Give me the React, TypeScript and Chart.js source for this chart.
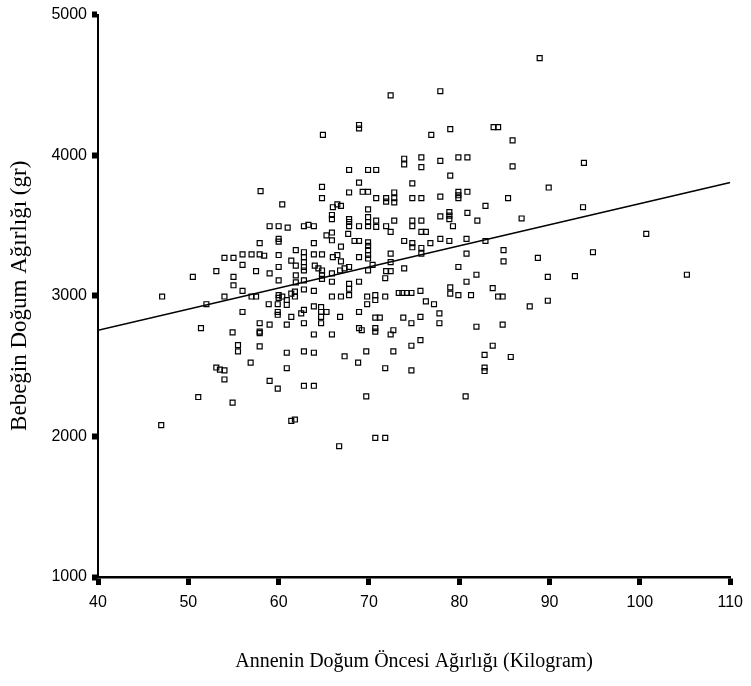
import { useEffect, useRef } from "react";
import { Chart, registerables } from "chart.js";

Chart.register(...registerables);

// Mother's pre-birth weight (kg) for each birth
const motherWeight = [
  64.9, 58.0, 64.8, 64.8, 60.4, 66.0, 66.5, 66.9, 65.9, 65.9,
  59.0, 60.0, 61.0, 62.8, 63.3, 63.9, 65.3, 65.9, 65.9, 60.0,
  60.0, 57.9, 63.9, 66.9, 54.0, 55.0, 56.0, 57.0, 57.9, 58.4,
  60.0, 61.9, 62.8, 62.8, 62.8, 63.9, 64.8, 66.0, 66.5, 66.9,
  61.4, 56.0, 57.5, 53.1, 50.5, 55.0, 55.0, 59.0, 60.0, 60.0,
  61.9, 61.9, 61.9, 62.8, 62.8, 62.8, 64.0, 64.4, 64.8, 64.8,
  64.8, 65.9, 65.9, 66.8, 67.3, 47.1, 52.0, 54.0, 56.0, 57.0,
  57.5, 58.9, 60.0, 60.0, 59.9, 60.4, 60.9, 61.4, 61.8, 61.8,
  62.8, 63.9, 65.9, 66.9, 56.0, 59.9, 59.9, 60.9, 61.4, 62.5,
  62.8, 63.9, 64.7, 64.7, 64.7, 64.7, 65.3, 66.8, 51.4, 54.9,
  57.9, 57.9, 57.9, 59.0, 60.9, 62.8, 63.9, 65.9, 67.3, 55.5,
  55.5, 57.9, 60.9, 62.8, 63.9, 56.9, 53.1, 53.5, 54.0, 54.0,
  60.9, 59.0, 59.9, 62.8, 63.9, 51.1, 54.9, 61.4, 61.8, 47.0,
  66.7, 72.4, 77.9, 68.9, 68.9, 76.9, 79.0, 83.8, 84.3, 85.9,
  89.9, 67.8, 69.9, 70.8, 73.9, 73.9, 75.8, 75.8, 77.9, 79.9,
  80.9, 85.9, 79.0, 68.9, 74.8, 67.8, 69.3, 69.9, 70.8, 71.9,
  71.9, 72.8, 72.8, 72.8, 74.8, 75.8, 77.9, 79.9, 79.9, 79.9,
  80.9, 85.4, 82.9, 69.9, 67.8, 67.8, 67.8, 68.9, 69.9, 69.9,
  69.9, 70.8, 70.8, 71.9, 72.8, 72.4, 74.8, 74.8, 75.8, 75.8,
  76.3, 77.9, 78.9, 78.9, 78.9, 79.3, 80.9, 82.0, 86.9, 67.7,
  68.4, 68.9, 69.9, 69.9, 69.9, 69.9, 69.9, 73.9, 74.8, 74.8,
  75.8, 76.8, 77.9, 78.9, 80.8, 82.9, 72.4, 75.8, 68.9, 80.8,
  84.9, 84.9, 88.7, 70.4, 72.4, 67.8, 69.9, 71.9, 72.4, 73.9,
  79.9, 81.9, 89.8, 68.9, 71.8, 80.8, 67.8, 67.8, 67.8, 69.8,
  69.8, 70.7, 70.7, 71.8, 73.3, 73.7, 74.2, 74.7, 75.7, 76.3,
  77.2, 79.0, 79.0, 79.9, 81.3, 83.7, 84.3, 84.8, 87.8, 89.8,
  68.9, 70.7, 71.2, 73.8, 74.7, 75.7, 77.8, 77.8, 68.9, 69.2,
  70.7, 70.7, 72.4, 72.7, 81.9, 84.8, 74.7, 75.7, 69.7, 72.7,
  83.7, 82.8, 85.7, 68.8, 71.8, 74.7, 82.8, 82.8, 69.7, 80.7,
  70.7, 71.8, 88.9, 93.8, 93.7, 100.7, 94.8, 92.8, 105.2,
];

// Baby's birth weight (g), same order as motherWeight
const babyWeight = [
  4145, 3745, 3775, 3695, 3650, 3630, 3650, 3640, 3575, 3545,
  3495, 3495, 3485, 3495, 3505, 3495, 3430, 3450, 3395, 3405,
  3385, 3375, 3375, 3350, 3270, 3270, 3295, 3295, 3295, 3285,
  3290, 3325, 3310, 3275, 3240, 3295, 3295, 3275, 3290, 3245,
  3250, 3220, 3175, 3175, 3135, 3135, 3075, 3160, 3205, 3110,
  3215, 3145, 3095, 3205, 3180, 3110, 3215, 3195, 3180, 3145,
  3120, 3160, 3100, 3180, 3195, 2995, 2940, 2995, 3035, 2995,
  2995, 2940, 3005, 2985, 2940, 2995, 2970, 3015, 3030, 2995,
  3045, 3035, 2995, 2995, 2885, 2885, 2865, 2935, 2850, 2875,
  2900, 2925, 2920, 2885, 2850, 2805, 2885, 2850, 2770, 2740,
  2805, 2745, 2735, 2795, 2795, 2805, 2725, 2725, 2570, 2650,
  2605, 2640, 2595, 2605, 2595, 2525, 2490, 2475, 2470, 2405,
  2485, 2395, 2340, 2360, 2360, 2280, 2240, 2110, 2120, 2080,
  1930, 4425, 4455, 4215, 4190, 4145, 4185, 4200, 4200, 4105,
  3770, 3895, 3895, 3895, 3975, 3935, 3985, 3915, 3960, 3985,
  3985, 3920, 3855, 3805, 3800, 3735, 3740, 3740, 3695, 3695,
  3670, 3735, 3695, 3665, 3695, 3695, 3705, 3740, 3715, 3695,
  3740, 3695, 3640, 3615, 3545, 3525, 3495, 3495, 3560, 3525,
  3495, 3535, 3490, 3495, 3535, 3455, 3535, 3495, 3535, 3455,
  3455, 3565, 3595, 3570, 3545, 3495, 3590, 3535, 3550, 3440,
  3390, 3390, 3380, 3355, 3325, 3290, 3265, 3390, 3375, 3345,
  3340, 3375, 3405, 3390, 3405, 3390, 3300, 3300, 3275, 3300,
  3325, 3245, 3270, 3220, 3240, 3205, 3180, 3175, 3175, 3195,
  3205, 3150, 3135, 3100, 3125, 3100, 3085, 3050, 3005, 2995,
  2940, 3005, 2970, 2995, 3020, 3020, 3020, 3020, 3035, 2960,
  2940, 3060, 3015, 3005, 3005, 3055, 2995, 2995, 2925, 2965,
  2885, 2845, 2845, 2845, 2805, 2850, 2875, 2805, 2770, 2755,
  2770, 2745, 2725, 2755, 2780, 2795, 2645, 2685, 2605, 2605,
  2645, 2580, 2565, 2525, 2485, 2470, 2490, 2465, 2285, 2285,
  1990, 1990, 4690, 3945, 3630, 3440, 3310, 3140, 3150,
];

// Least-squares line end points
const fitX = [40, 110];
const fitY = [2755, 3806];

const xMin = 40;
const xMax = 110;
const xStep = 10;
const yMin = 1000;
const yMax = 5000;
const yStep = 1000;

const xTitle = "Annenin Doğum Öncesi Ağırlığı (Kilogram)";
const yTitle = "Bebeğin Doğum Ağırlığı (gr)";

const tickFont = { family: '"Liberation Sans", Arial, sans-serif', size: 16 };
const xTitleFont = { family: '"Liberation Serif", "Times New Roman", serif', size: 20 };
const yTitleFont = { family: '"Liberation Serif", "Times New Roman", serif', size: 23 };

export default function App() {
  const canvasRef = useRef<HTMLCanvasElement>(null);

  useEffect(() => {
    const canvas = canvasRef.current;
    if (!canvas) return;

    const points = motherWeight.map((x, i) => ({ x, y: babyWeight[i] }));
    const fit = fitX.map((x, i) => ({ x, y: fitY[i] }));

    const chart = new Chart(canvas, {
      type: "scatter",
      data: {
        datasets: [
          {
            type: "scatter",
            data: points,
            pointStyle: "rect",
            pointRadius: 3.5,
            borderColor: "#000",
            backgroundColor: "rgba(0,0,0,0)",
            borderWidth: 1.2,
          },
          {
            type: "line",
            data: fit,
            borderColor: "#000",
            borderWidth: 1.6,
            pointRadius: 0,
            fill: false,
          },
        ],
      },
      options: {
        responsive: false,
        animation: false,
        devicePixelRatio: 1,
        layout: { padding: { top: 10, right: 16, left: 0, bottom: 0 } },
        plugins: {
          legend: { display: false },
          tooltip: { enabled: false },
        },
        scales: {
          x: {
            type: "linear",
            min: xMin,
            max: xMax,
            ticks: {
              stepSize: xStep,
              color: "#000",
              font: tickFont,
              padding: 8,
              maxRotation: 0,
              callback: (v: any) => String(v),
            },
            grid: {
              display: true,
              drawOnChartArea: false,
              drawTicks: true,
              tickLength: 8,
              tickWidth: 5,
              tickColor: "#000",
              color: "#000",
            },
            border: { display: true, color: "#000", width: 2.5 },
            title: {
              display: true,
              text: xTitle,
              color: "#000",
              font: xTitleFont,
              padding: { top: 0, bottom: 12 },
            },
            afterFit: (scale: any) => {
              scale.height = 109;
            },
          },
          y: {
            type: "linear",
            min: yMin,
            max: yMax,
            ticks: {
              stepSize: yStep,
              color: "#000",
              font: tickFont,
              padding: 5,
              callback: (v: any) => String(v),
            },
            grid: {
              display: true,
              drawOnChartArea: false,
              drawTicks: true,
              tickLength: 6,
              tickWidth: 6,
              tickColor: "#000",
              color: "#000",
            },
            border: { display: true, color: "#000", width: 2 },
            title: {
              display: true,
              text: yTitle,
              color: "#000",
              font: yTitleFont,
              padding: { top: 6, bottom: 0 },
            },
            afterFit: (scale: any) => {
              scale.width = 98;
            },
          },
        },
      },
    });

    return () => chart.destroy();
  }, []);

  return (
    <div
      style={{
        position: "fixed",
        left: 0,
        top: 0,
        width: 751,
        height: 686,
        background: "#fff",
      }}
    >
      <canvas ref={canvasRef} width={751} height={686} style={{ display: "block" }} />
    </div>
  );
}
